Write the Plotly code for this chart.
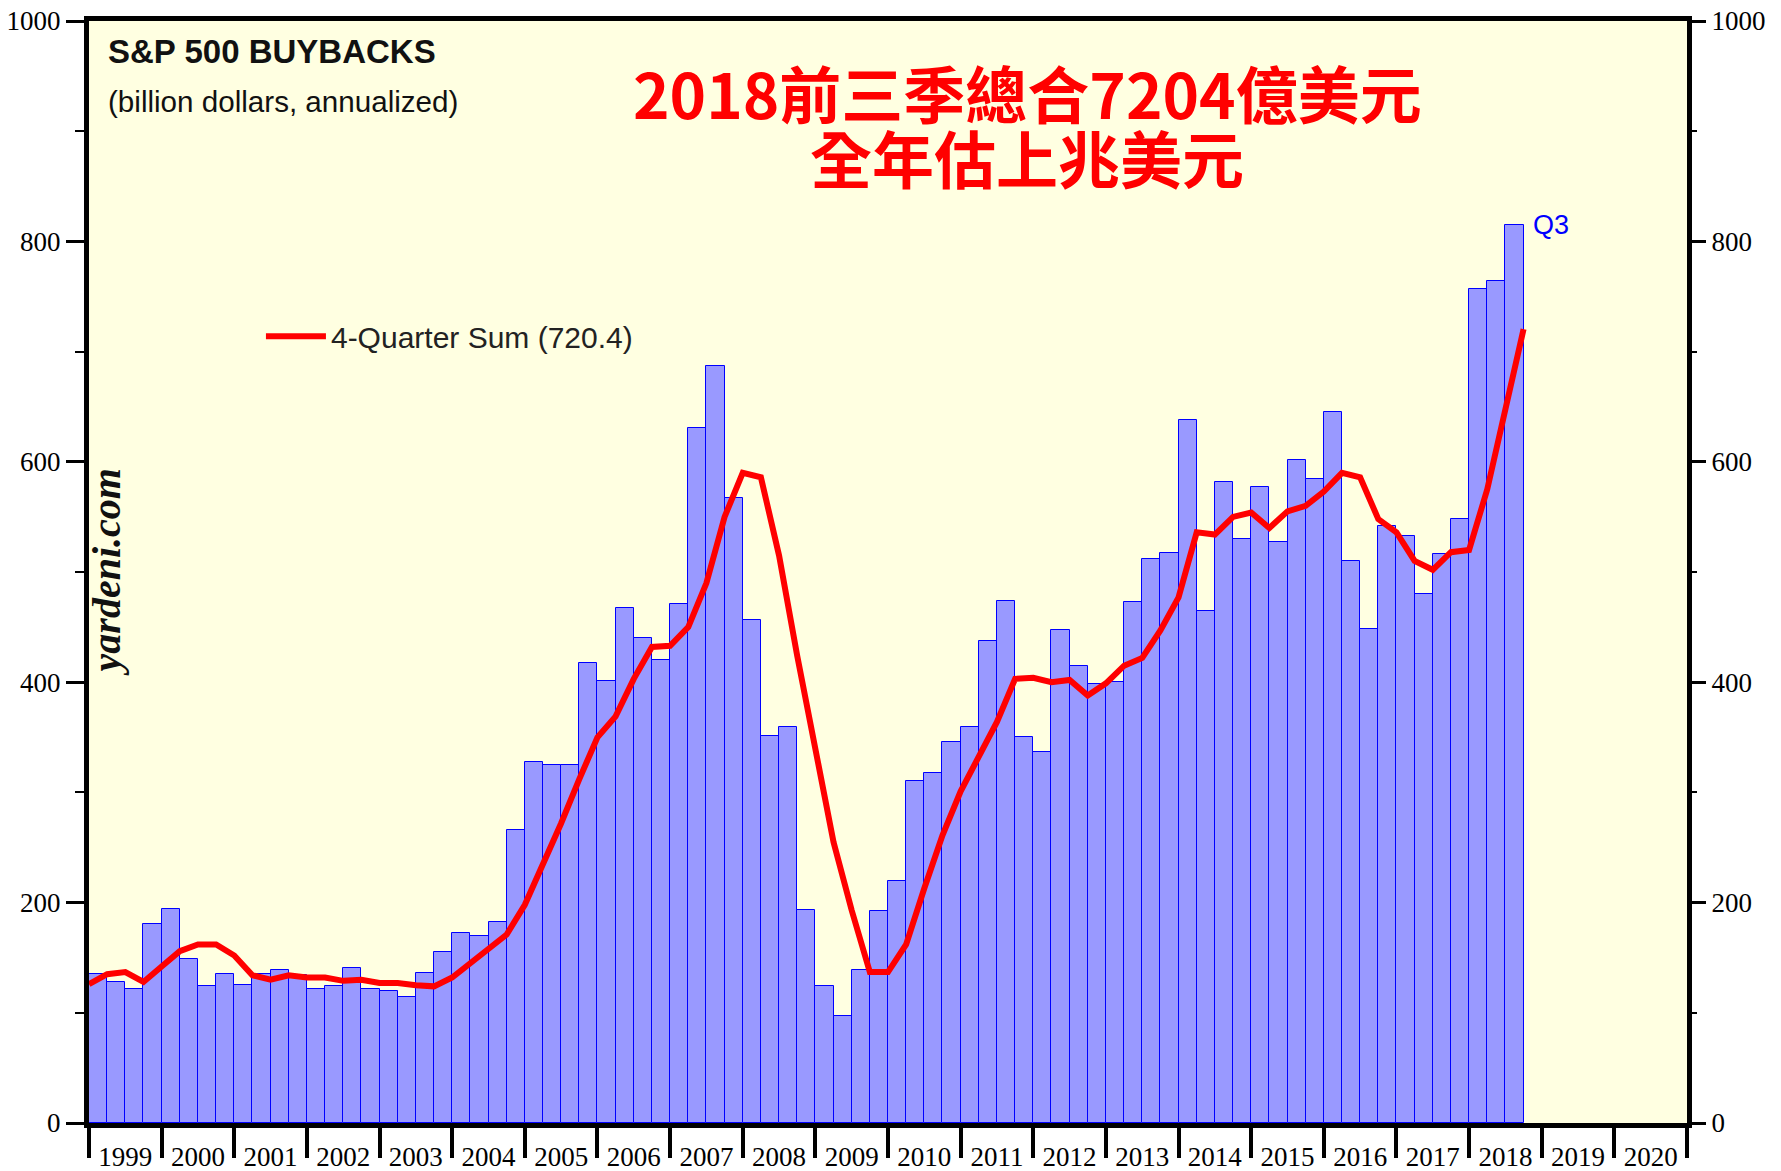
import plotly.graph_objects as go

# ---------------- data ----------------
first_year = 1999
year_labels = ["1999", "2000", "2001", "2002", "2003", "2004", "2005", "2006",
               "2007", "2008", "2009", "2010", "2011", "2012", "2013", "2014",
               "2015", "2016", "2017", "2018", "2019", "2020"]

# S&P 500 buybacks, billion dollars, annualized, quarterly 1999Q1 .. 2018Q3
buybacks = [
    135, 128, 122, 181,   # 1999
    194, 149, 124, 135,   # 2000
    125, 135, 139, 134,   # 2001
    122, 124, 141, 122,   # 2002
    120, 114, 136, 155,   # 2003
    172, 170, 182, 266,   # 2004
    328, 325, 325, 417,   # 2005
    401, 467, 440, 420,   # 2006
    471, 631, 687, 567,   # 2007
    456, 351, 359, 193,   # 2008
    124, 97, 139, 192,    # 2009
    220, 310, 318, 346,   # 2010
    359, 437, 474, 350,   # 2011
    337, 447, 415, 398,   # 2012
    400, 473, 512, 517,   # 2013
    638, 465, 582, 530,   # 2014
    577, 527, 602, 584,   # 2015
    645, 510, 448, 542,   # 2016
    533, 480, 516, 548,   # 2017
    757, 764, 815,        # 2018
]

# 4-quarter sum, at quarter ends 1998Q4 .. 2018Q3
four_q_sum = [
    126,
    135, 137, 128, 142,   # 1999
    156, 162, 162, 152,   # 2000
    134, 130, 134, 132,   # 2001
    132, 129, 130, 127,   # 2002
    127, 125, 124, 132,   # 2003
    145, 159, 171, 198,   # 2004
    234, 272, 312, 350,   # 2005
    369, 403, 432, 433,   # 2006
    450, 490, 550, 590,   # 2007
    586, 515, 424, 339,   # 2008
    255, 193, 137, 137,   # 2009
    162, 213, 261, 301,   # 2010
    334, 364, 403, 404,   # 2011
    400, 402, 388, 399,   # 2012
    415, 422, 447, 477,   # 2013
    536, 534, 550, 554,   # 2014
    540, 555, 560, 573,   # 2015
    590, 586, 548, 536,   # 2016
    510, 502, 518, 520,   # 2017
    575, 647, 720.4,      # 2018
]

# quarter positions on a numeric (year) axis
bar_x = [first_year + (i + 0.5) / 4 for i in range(len(buybacks))]
line_x = [first_year + i / 4 for i in range(len(four_q_sum))]
year_mid = [first_year + i + 0.5 for i in range(len(year_labels))]
year_edges = [first_year + i for i in range(len(year_labels) + 1)]

SANS = "Liberation Sans, Arial, sans-serif"
SERIF = "Liberation Serif, Times New Roman, serif"
CJK = "Noto Sans CJK TC, Noto Sans CJK SC, sans-serif"

fig = go.Figure()
fig.add_trace(go.Bar(
    x=bar_x, y=buybacks, width=0.25,
    marker=dict(color="#9999FF", line=dict(color="#0000FF", width=1)),
    showlegend=False, name="Buybacks",
))
fig.add_trace(go.Scatter(
    x=line_x, y=four_q_sum, mode="lines", yaxis="y2",
    line=dict(color="#FF0000", width=6),
    name="4-Quarter Sum (720.4)",
))

yaxis_common = dict(
    range=[0, 1000], tickmode="linear", tick0=0, dtick=200,
    ticks="outside", ticklen=18, tickwidth=3, tickcolor="black",
    minor=dict(ticks="outside", dtick=100, tick0=0, ticklen=9, tickwidth=2,
               tickcolor="black"),
    tickfont=dict(family=SERIF, size=27, color="black"),
    showgrid=False, zeroline=False, tickformat="d", automargin=False,
)

fig.update_layout(
    width=1781, height=1171,
    margin=dict(l=89, r=94, t=21, b=48, autoexpand=False),
    paper_bgcolor="white",
    plot_bgcolor="#FFFFE1",
    bargap=0,
    xaxis=dict(
        range=[first_year, first_year + len(year_labels)],
        tickmode="array", tickvals=year_mid, ticktext=year_labels,
        ticks="outside", ticklen=6, tickcolor="rgba(0,0,0,0)",
        minor=dict(tickmode="array", tickvals=year_edges, ticks="outside",
                   ticklen=30, tickwidth=4, tickcolor="black"),
        tickfont=dict(family=SERIF, size=27, color="black"),
        showline=True, linecolor="black", linewidth=5, mirror=True,
        showgrid=False, zeroline=False, automargin=False,
    ),
    yaxis=dict(showline=True, linecolor="black", linewidth=5, mirror=True,
               **yaxis_common),
    yaxis2=dict(overlaying="y", side="right", showline=False, **yaxis_common),
    legend=dict(
        x=0.1076, y=0.714, xanchor="left", yanchor="middle",
        bgcolor="rgba(0,0,0,0)", itemwidth=60,
        font=dict(family=SANS, size=30, color="#222222"),
    ),
    showlegend=True,
)

annotations = [
    dict(text="<b>S&P 500 BUYBACKS</b>", x=0.0106, y=0.972, xref="paper",
         yref="paper", xanchor="left", yanchor="middle", showarrow=False,
         font=dict(family=SANS, size=33, color="#111111")),
    dict(text="(billion dollars, annualized)", x=0.0106, y=0.9265,
         xref="paper", yref="paper", xanchor="left", yanchor="middle",
         showarrow=False, font=dict(family=SANS, size=29.6, color="#111111")),
    dict(text="<b>2018前三季總合7204億美元</b>", x=0.587, y=0.9356,
         xref="paper", yref="paper", xanchor="center", yanchor="middle",
         showarrow=False, font=dict(family=CJK, size=62, color="#FF0000")),
    dict(text="<b>全年估上兆美元</b>", x=0.587, y=0.8769,
         xref="paper", yref="paper", xanchor="center", yanchor="middle",
         showarrow=False, font=dict(family=CJK, size=62, color="#FF0000")),
    dict(text="Q3", x=2018.85, y=815, xref="x", yref="y",
         xanchor="left", yanchor="middle", showarrow=False,
         font=dict(family=SANS, size=27, color="#0000FF")),
    dict(text="<b><i>yardeni.com</i></b>", x=0.0109, y=0.5, xref="paper",
         yref="paper", xanchor="center", yanchor="middle", textangle=-90,
         showarrow=False, font=dict(family=SERIF, size=40, color="#111111")),
]
fig.update_layout(annotations=annotations)

fig.write_html("out.html", config={"displayModeBar": False},
               post_script="document.body.style.margin='0';")
